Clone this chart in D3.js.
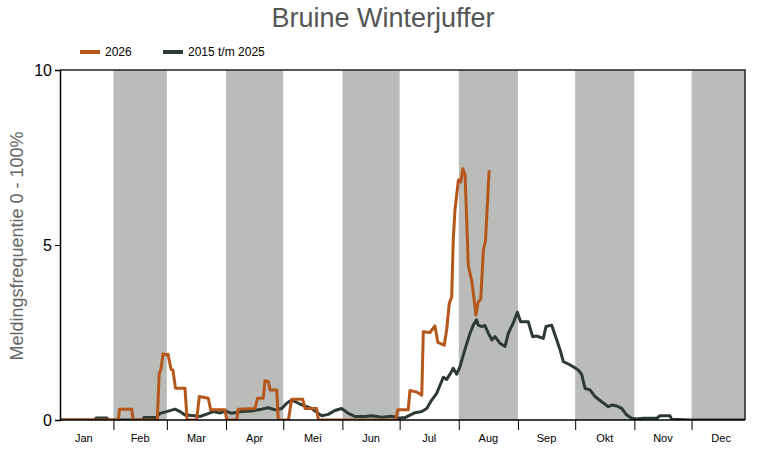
<!DOCTYPE html>
<html>
<head>
<meta charset="utf-8">
<script src="https://cdn.jsdelivr.net/npm/d3@7"></script>
<style>
  body { margin: 0; background: #fff; }
  svg { font-family: "Liberation Sans", Arial, sans-serif; }
</style>
</head>
<body>
<div id="chart"></div>
<script>
// month names and the first day-of-year of each month (2026, no leap year)
const months = ['Jan', 'Feb', 'Mar', 'Apr', 'Mei', 'Jun', 'Jul', 'Aug', 'Sep', 'Okt', 'Nov', 'Dec'];
const monthStart = [0, 31, 59, 90, 120, 151, 181, 212, 243, 273, 304, 334, 365];
const yTicks = [0, 5, 10];

// 2026 series: day of year / frequency
const days2026 = [3, 33.6, 34.2, 40.6, 41.3, 54, 55, 55.9, 57, 58.6, 59.6, 61.2, 62.2, 63.5, 68.5, 69.6,
  74.6, 76, 80.7, 82, 89.5, 90.4, 95.6, 96.4, 105.2, 106.5, 109.5, 110.4, 112.2, 113.1, 116.6, 117.4,
  122.7, 124.4, 130.2, 131.4, 137.5, 138.4, 178.9, 180, 185.5, 186.4, 189.9, 192.6, 193.4, 196.9,
  199.5, 201, 204.4, 205.7, 207, 208.3, 209.1, 210, 211.8, 213, 214.1, 215.3, 217, 218.9, 221,
  222.2, 223.5, 224.9, 226, 227.9];
const vals2026 = [0, 0, 0.31, 0.31, 0, 0, 1.33, 1.45, 1.89, 1.86, 1.88, 1.45, 1.43, 0.91, 0.91, 0,
  0, 0.67, 0.62, 0.29, 0.29, 0, 0, 0.31, 0.33, 0.62, 0.62, 1.12, 1.1, 0.86, 0.86, 0,
  0, 0.59, 0.59, 0.33, 0.33, 0, 0, 0.29, 0.29, 0.84, 0.8, 0.71, 2.52, 2.5,
  2.69, 2.22, 2.14, 2.6, 3.33, 3.52, 5.14, 6.0, 6.86, 6.8, 7.18, 7.0, 4.4, 3.95, 3.0,
  3.38, 3.45, 4.86, 5.12, 7.13];

// 2015 t/m 2025 series
const daysHist = [3, 21.3, 21.9, 27.6, 28.2, 46.5, 47, 53.3, 55.4, 58.9, 63.3, 65.9, 68.5, 73.8, 76.4,
  79.9, 83.3, 86.9, 89.5, 93, 98.2, 103.5, 108.7, 112.2, 115.7, 119.2, 121.8, 124.4, 127.1, 129.7,
  134.9, 138.4, 140.2, 143.6, 147.1, 150.6, 154.1, 157.6, 162.9, 166.4, 171.6, 176.8, 180.3, 183.8,
  186.4, 189.1, 192.6, 195.2, 197.8, 200.4, 202.2, 203.9, 205.7, 207.4, 209.1, 210.9, 212.6, 214.4,
  216.2, 217.9, 219.6, 221.3, 222.2, 224, 225.7, 227.5, 229.3, 231, 233.6, 236.2, 238, 240.6, 242.7,
  244.4, 248.4, 250.7, 252.8, 256.3, 257.7, 260.7, 263.3, 265.1, 266.8, 269.4, 272, 274.6, 276.4,
  278.2, 280.8, 283.4, 286.9, 290.4, 292.1, 294.8, 297.4, 300, 302.6, 305.2, 308.7, 315.7, 317.5,
  322.7, 323.6, 333.2, 362];
const valsHist = [0, 0, 0.06, 0.06, 0, 0, 0.07, 0.07, 0.19, 0.24, 0.31, 0.24, 0.14, 0.12, 0.1,
  0.17, 0.24, 0.2, 0.26, 0.19, 0.24, 0.26, 0.31, 0.35, 0.29, 0.33, 0.48, 0.57, 0.5, 0.43,
  0.33, 0.19, 0.12, 0.16, 0.27, 0.33, 0.19, 0.1, 0.1, 0.12, 0.08, 0.11, 0.05, 0.07,
  0.14, 0.21, 0.24, 0.33, 0.57, 0.76, 1.0, 1.22, 1.16, 1.31, 1.48, 1.31, 1.52, 1.86,
  2.19, 2.48, 2.71, 2.86, 2.71, 2.67, 2.7, 2.48, 2.29, 2.38, 2.19, 2.1, 2.48, 2.78, 3.08,
  2.81, 2.81, 2.38, 2.4, 2.33, 2.67, 2.71, 2.29, 2.0, 1.67, 1.6, 1.52, 1.43, 1.3,
  0.9, 0.86, 0.67, 0.52, 0.38, 0.43, 0.4, 0.33, 0.14, 0.05, 0.03, 0.05, 0.05, 0.12,
  0.12, 0.02, 0, 0];

const width = 765;
const height = 450;
const padLeft = 60, padRight = 745, padTop = 70, padBottom = 420;

const svg = d3.select('#chart').append('svg').attr('width', width).attr('height', height);

const x = d3.scaleLinear().domain([3, 362]).range([padLeft, padRight]);
const y = d3.scaleLinear().domain([0, 10]).range([padBottom, padTop]);

// clip so the bands for Jan/Dec stop at the frame
svg.append('clipPath').attr('id', 'plot')
  .append('rect').attr('x', padLeft).attr('y', padTop)
  .attr('width', padRight - padLeft).attr('height', padBottom - padTop);

const plot = svg.append('g').attr('clip-path', 'url(#plot)');

// grey bands for every other month
plot.selectAll('rect.band')
  .data(d3.range(1, 12, 2))
  .enter()
  .append('rect')
  .attr('class', 'band')
  .attr('x', (i) => x(monthStart[i]))
  .attr('width', (i) => x(monthStart[i + 1]) - x(monthStart[i]))
  .attr('y', padTop)
  .attr('height', padBottom - padTop)
  .attr('fill', '#b9bcb8');

// frame: top and right
svg.append('path')
  .attr('d', `M${padLeft},${padTop}H${padRight}V${padBottom}`)
  .attr('fill', 'none')
  .attr('stroke', '#222')
  .attr('stroke-width', 1.5);

// y axis
const yAxis = svg.append('g')
  .attr('transform', `translate(${padLeft},0)`)
  .call(d3.axisLeft(y).tickValues(yTicks).tickSize(5).tickPadding(3));
yAxis.select('.domain').attr('stroke', '#000').attr('stroke-width', 1.5);
yAxis.selectAll('.tick line').attr('stroke', '#000');
yAxis.selectAll('.tick text').style('font-size', '16px').attr('fill', '#000');

// x axis: ticks on month boundaries, labels mid-month
const xAxis = svg.append('g')
  .attr('transform', `translate(0,${padBottom})`)
  .call(d3.axisBottom(x).tickValues(monthStart.slice(1, 12)).tickSize(10).tickFormat(''));
xAxis.select('.domain').attr('d', `M${padLeft},0H${padRight}`).attr('stroke', '#000').attr('stroke-width', 1.5);
xAxis.selectAll('.tick line').attr('stroke', '#000');

svg.append('g')
  .selectAll('text')
  .data(months)
  .enter()
  .append('text')
  .attr('x', (d, i) => x((monthStart[i] + monthStart[i + 1]) / 2))
  .attr('y', 442)
  .attr('text-anchor', 'middle')
  .style('font-size', '11px')
  .attr('fill', '#000')
  .text((d) => d);

// lines
const line = d3.line().x((d) => x(d[0])).y((d) => y(d[1]));

plot.append('path')
  .datum(d3.zip(daysHist, valsHist))
  .attr('d', line)
  .attr('fill', 'none')
  .attr('stroke', '#2c3a33')
  .attr('stroke-width', 3)
  .attr('stroke-linejoin', 'round');

plot.append('path')
  .datum(d3.zip(days2026, vals2026))
  .attr('d', line)
  .attr('fill', 'none')
  .attr('stroke', '#b5561b')
  .attr('stroke-width', 3)
  .attr('stroke-linejoin', 'round');

// title
svg.append('text')
  .attr('x', 383)
  .attr('y', 27)
  .attr('text-anchor', 'middle')
  .style('font-size', '27px')
  .attr('fill', '#555')
  .text('Bruine Winterjuffer');

// y label
svg.append('text')
  .attr('transform', 'rotate(-90)')
  .attr('x', -246)
  .attr('y', 23)
  .attr('text-anchor', 'middle')
  .style('font-size', '18px')
  .attr('fill', '#666')
  .text('Meldingsfrequentie 0 - 100%');

// legend
const legend = [['2026', '#b5561b', 80], ['2015 t/m 2025', '#2c3a33', 163]];
legend.forEach(([label, color, lx]) => {
  svg.append('line')
    .attr('x1', lx).attr('x2', lx + 20)
    .attr('y1', 52).attr('y2', 52)
    .attr('stroke', color).attr('stroke-width', 4);
  svg.append('text')
    .attr('x', lx + 25)
    .attr('y', 56)
    .style('font-size', '12px')
    .attr('fill', '#000')
    .text(label);
});
</script>
</body>
</html>
